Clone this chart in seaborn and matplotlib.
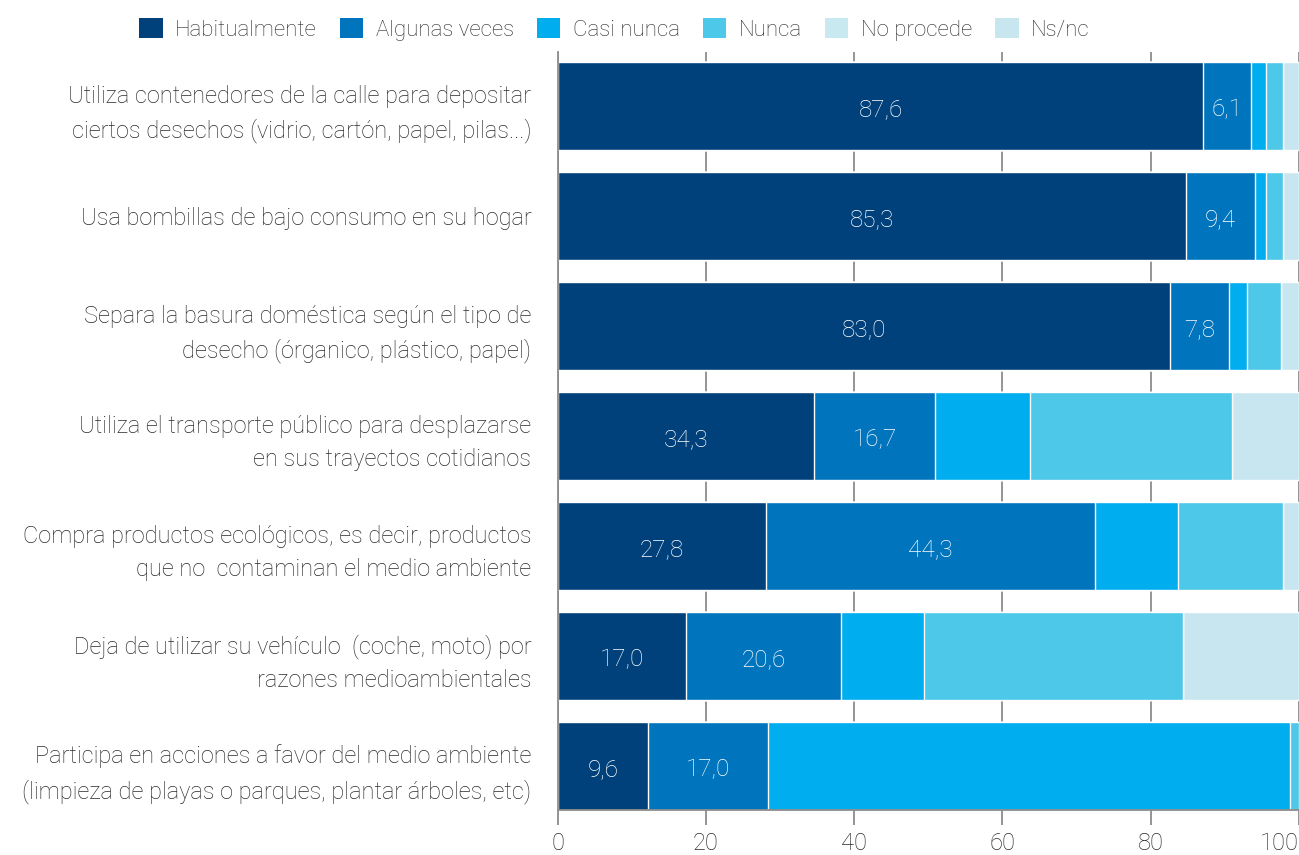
import matplotlib
matplotlib.use("Agg")
import matplotlib.pyplot as plt
from matplotlib.patches import Patch
import numpy as np
import pandas as pd
import seaborn as sns

# Categories (top to bottom)
categorias = [
    "Utiliza contenedores de la calle para depositar\nciertos desechos (vidrio, cartón, papel, pilas...)",
    "Usa bombillas de bajo consumo en su hogar",
    "Separa la basura doméstica según el tipo de\ndesecho (órganico, plástico, papel)",
    "Utiliza el transporte público para desplazarse\nen sus trayectos cotidianos",
    "Compra productos ecológicos, es decir, productos\nque no  contaminan el medio ambiente",
    "Deja de utilizar su vehículo  (coche, moto) por\nrazones medioambientales",
    "Participa en acciones a favor del medio ambiente\n(limpieza de playas o parques, plantar árboles, etc)",
]

series = ["Habitualmente", "Algunas veces", "Casi nunca", "Nunca", "No procede", "Ns/nc"]

# Segment widths
habitualmente = [87.1, 84.8, 82.6, 34.6, 28.1, 17.3, 12.2]
algunas_veces = [6.4, 9.2, 8.0, 16.3, 44.4, 20.9, 16.2]
casi_nunca = [2.1, 1.6, 2.4, 12.8, 11.2, 11.2, 70.4]
nunca = [2.3, 2.3, 4.6, 27.3, 14.1, 35.0, 1.2]
no_procede = [0.0, 0.0, 0.0, 0.0, 0.0, 0.0, 0.0]
ns_nc = [2.1, 2.1, 2.4, 9.0, 2.2, 15.6, 0.0]

# Printed labels on the bars
etiq_habitual = ["87,6", "85,3", "83,0", "34,3", "27,8", "17,0", "9,6"]
etiq_algunas = ["6,1", "9,4", "7,8", "16,7", "44,3", "20,6", "17,0"]

colores = ["#00417b", "#0075be", "#00adee", "#4dc8e8", "#c8e9f0", "#c8e6ef"]

df = pd.DataFrame({"cat": categorias,
                   "Habitualmente": habitualmente,
                   "Algunas veces": algunas_veces,
                   "Casi nunca": casi_nunca,
                   "Nunca": nunca,
                   "No procede": no_procede,
                   "Ns/nc": ns_nc})

# cumulative totals so that the stacks can be layered
cum = df[series].cumsum(axis=1)

sns.set_theme(style="white")
plt.rcParams["font.family"] = ["Roboto", "DejaVu Sans"]
plt.rcParams["font.weight"] = "light"

fig = plt.figure(figsize=(12.99, 8.55), dpi=100)
ax = fig.add_axes([0.4293, 0.0526, 0.5707, 0.8866])

for i in range(len(series) - 1, -1, -1):
    sns.barplot(x=cum[series[i]], y=df["cat"], order=categorias, color=colores[i],
                orient="h", width=0.8, saturation=1, ax=ax, zorder=2)

# value labels
left = np.zeros(len(categorias))
for vals, etiq in [(habitualmente, etiq_habitual), (algunas_veces, etiq_algunas)]:
    for j, (v, t) in enumerate(zip(vals, etiq)):
        ax.text(left[j] + v / 2, j + 0.03, t, ha="center", va="center",
                color="white", fontsize=17.5, fontweight="light")
    left = left + np.array(vals)

ax.set_xlim(0, 100)
ax.set_ylim(6.4, -0.49)
ax.set_xticks([0, 20, 40, 60, 80, 100])
ax.xaxis.grid(True, color="#8c8c8c", linewidth=1.3, zorder=0)
ax.set_axisbelow(True)
ax.set_xlabel("")
ax.set_ylabel("")
for s in ["top", "right"]:
    ax.spines[s].set_visible(False)
ax.spines["left"].set_color("#8c8c8c")
ax.spines["bottom"].set_color("#8c8c8c")
ax.spines["left"].set_linewidth(1.3)
ax.spines["bottom"].set_linewidth(1.3)
ax.tick_params(axis="x", length=11, color="#8c8c8c", width=1.3, labelsize=17,
               labelcolor="#2a2a2a", pad=5, bottom=True)
ax.tick_params(axis="y", length=0, labelsize=17, labelcolor="#2a2a2a", pad=19)
for lab in ax.get_yticklabels():
    lab.set_linespacing(1.55)
    lab.set_fontweight("light")
for lab in ax.get_xticklabels():
    lab.set_fontweight("light")
ax.get_xticklabels()[-1].set_horizontalalignment("right")

handles = [Patch(facecolor=c, edgecolor="none") for c in colores]
fig.legend(handles, series, loc="center", bbox_to_anchor=(0.473, 0.966), ncol=6,
           frameon=False, fontsize=16, handlelength=1.05, handleheight=1.05,
           handletextpad=0.55, columnspacing=1.05, labelcolor="#2a2a2a")

fig.savefig("out.png", dpi=100)
